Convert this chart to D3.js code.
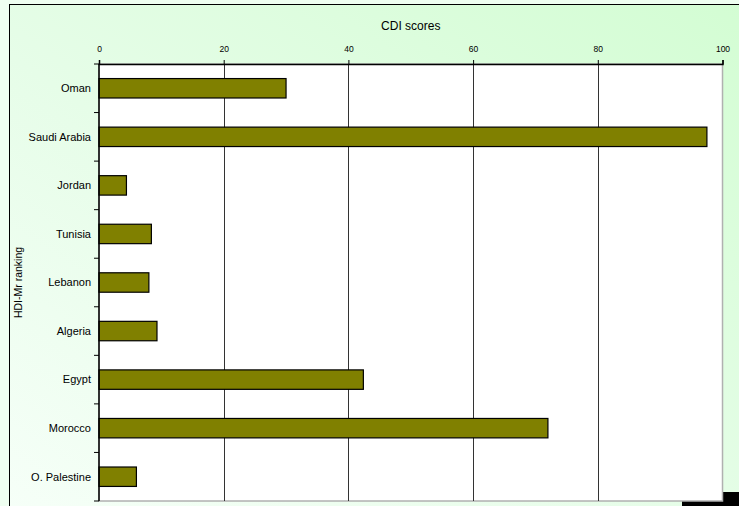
<!DOCTYPE html>
<html><head><meta charset="utf-8">
<script src="https://cdn.jsdelivr.net/npm/d3@7"></script>
<style>body{margin:0;padding:0;overflow:hidden;background:#effff1}</style>
</head><body>
<svg id="c" width="739" height="506"></svg>
<script>
const categories = ["Oman","Saudi Arabia","Jordan","Tunisia","Lebanon","Algeria","Egypt","Morocco","O. Palestine"];
const cdiScores = [30.0, 97.5, 4.4, 8.4, 8.0, 9.3, 42.4, 72.0, 6.0];
const xTicks = [0, 20, 40, 60, 80, 100];
const titleText = "CDI scores";
const yAxisTitle = "HDI-Mr ranking";

const svg = d3.select("#c");
const W = 739, H = 506;
const M = {left: 99, top: 64, right: 722.5, bottom: 501};

const defs = svg.append("defs");
const g = defs.append("linearGradient").attr("id","bg").attr("x1","0").attr("y1","1").attr("x2","1").attr("y2","0");
g.append("stop").attr("offset","0").attr("stop-color","#f6fff8");
g.append("stop").attr("offset","0.45").attr("stop-color","#e6fde8");
g.append("stop").attr("offset","1").attr("stop-color","#d3fdd3");

svg.append("rect").attr("x",0).attr("y",0).attr("width",W).attr("height",H).attr("fill","#effff1");
svg.append("rect").attr("x",9.5).attr("y",4.5).attr("width",W).attr("height",H).attr("fill","url(#bg)")
  .attr("stroke","#000").attr("stroke-width",1);

// corner artifact
svg.append("rect").attr("x",682).attr("y",492).attr("width",57).attr("height",14).attr("fill","#000");

const x = d3.scaleLinear().domain([0,100]).range([M.left, M.right]);
const y = d3.scaleBand().domain(categories).range([M.top, M.bottom]).paddingInner(0.6).paddingOuter(0.3);
const yb = d3.scaleBand().domain(categories).range([M.top, M.bottom]);

// plot area
svg.append("rect").attr("x",M.left).attr("y",M.top).attr("width",M.right-M.left).attr("height",M.bottom-M.top)
  .attr("fill","#fff").attr("stroke","#b0b0b0").attr("stroke-width",1.5);

// gridlines
svg.append("g").selectAll("line").data(xTicks.filter(t=>t>0 && t<100)).join("line")
  .attr("x1",d=>Math.round(x(d))+0.5).attr("x2",d=>Math.round(x(d))+0.5)
  .attr("y1",M.top).attr("y2",M.bottom).attr("stroke","#333").attr("stroke-width",1);

// bars
svg.append("g").selectAll("rect").data(categories).join("rect")
  .attr("x",x(0)).attr("y",d=>y(d)).attr("width",(d,i)=>x(cdiScores[i])-x(0)).attr("height",y.bandwidth())
  .attr("fill","#808000").attr("stroke","#000").attr("stroke-width",1.2);

// top axis
const xa = svg.append("g").attr("transform",`translate(0,${M.top})`)
  .call(d3.axisTop(x).tickValues(xTicks).tickSize(4).tickPadding(8).tickFormat(d3.format("d")));
xa.select(".domain").attr("stroke","#000").attr("stroke-width",1.5);
xa.selectAll(".tick line").attr("stroke","#000");
xa.selectAll("text").attr("font-family","Liberation Sans, Arial, sans-serif").attr("font-size",8.5).attr("fill","#000");

// left axis: ticks at band boundaries
const ya = svg.append("g");
ya.append("line").attr("x1",M.left).attr("x2",M.left).attr("y1",M.top).attr("y2",M.bottom).attr("stroke","#000").attr("stroke-width",1.5);
ya.selectAll("line.t").data(categories.concat(["_end"])).join("line").attr("class","t")
  .attr("x1",M.left-5).attr("x2",M.left)
  .attr("y1",(d,i)=>M.top + i*yb.step()).attr("y2",(d,i)=>M.top + i*yb.step())
  .attr("stroke","#000").attr("stroke-width",1);
ya.selectAll("text").data(categories).join("text")
  .attr("x",M.left-8).attr("y",d=>yb(d)+yb.bandwidth()/2).attr("dy","0.35em")
  .attr("text-anchor","end").attr("font-family","Liberation Sans, Arial, sans-serif").attr("font-size",11).attr("fill","#000")
  .text(d=>d);

// title
svg.append("text").attr("x",(M.left+M.right)/2).attr("y",30).attr("text-anchor","middle")
  .attr("font-family","Liberation Sans, Arial, sans-serif").attr("font-size",12).attr("fill","#000").text(titleText);

// y title
svg.append("text").attr("transform",`translate(22,${(M.top+M.bottom)/2}) rotate(-90)`).attr("text-anchor","middle")
  .attr("font-family","Liberation Sans, Arial, sans-serif").attr("font-size",10.5).attr("fill","#000").text(yAxisTitle);
</script>
</body></html>
